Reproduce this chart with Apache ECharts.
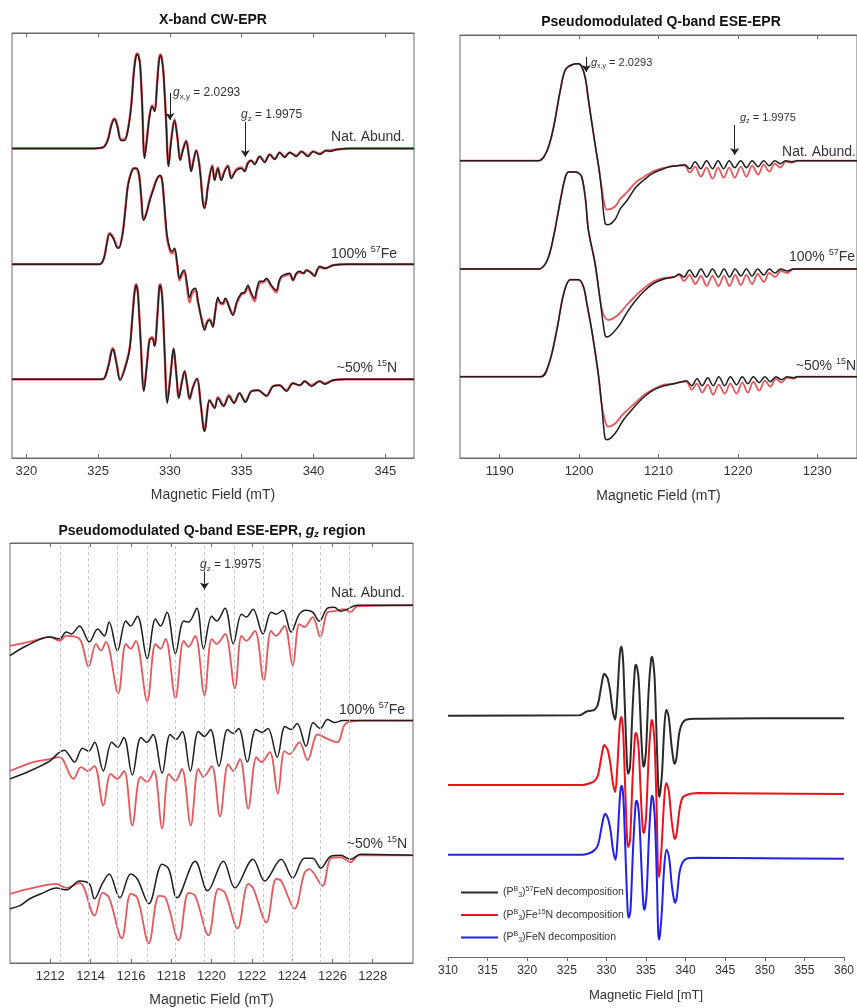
<!DOCTYPE html>
<html>
<head>
<meta charset="utf-8">
<script src="https://cdn.jsdelivr.net/npm/echarts@6/dist/echarts.min.js"></script>
<style>html,body{margin:0;padding:0;background:#fff}#c{width:857px;height:1008px}</style>
</head>
<body>
<div id="c"></div>
<script>
// ---------- tick labels ----------
const cwTicks = [320, 325, 330, 335, 340, 345];
const qTicks = [1190, 1200, 1210, 1220, 1230];
const gzTicks = [1212, 1214, 1216, 1218, 1220, 1222, 1224, 1226, 1228];
const decTicks = [310, 315, 320, 325, 330, 335, 340, 345, 350, 355, 360];

// ---------- X-band CW-EPR (field mT, signal a.u.) ----------
const cwNatExp = [[319,0],[324.39,0],[325.32,1],[325.67,8],[325.9,22],[326.05,28],[326.14,29],[326.24,27],[326.37,20],[326.6,8],[326.83,8],[327.07,18],[327.3,42],[327.48,75],[327.62,91],[327.72,94],[327.82,92],[327.93,82],[328.07,42],[328.23,-10],[328.39,8],[328.58,32],[328.76,42],[328.93,37],[329.11,65],[329.24,88],[329.34,93],[329.44,89],[329.55,75],[329.74,25],[329.9,-18],[330.09,8],[330.32,28],[330.51,12],[330.72,-12],[330.9,-2],[331.13,7],[331.32,-8],[331.48,-23],[331.65,-12],[331.83,-2],[332.06,-18],[332.3,-55],[332.41,-60],[332.52,-54],[332.65,-38],[332.95,-18],[333.11,-32],[333.34,-20],[333.57,-32],[333.81,-23],[334.04,-18],[334.27,-30],[334.62,-22],[334.97,-20],[335.2,-23],[335.43,-15],[335.65,-12],[335.9,-16],[336.25,-8],[336.6,-14],[336.95,-6],[337.3,-11],[337.64,-4],[337.99,-9],[338.34,-4],[338.81,-8],[339.16,-3],[339.62,-8],[339.97,-3],[340.43,-6],[340.9,-2],[341.13,-3],[341.6,-1],[342.5,0],[347,0]];
const cwNatSim = [[319,0],[324.39,0],[325.32,1],[325.67,9],[325.9,23],[326.05,29],[326.14,30],[326.24,28],[326.37,21],[326.6,9],[326.83,9],[327.07,19],[327.3,43],[327.48,76],[327.62,92],[327.72,95],[327.82,93],[327.93,83],[328.07,43],[328.23,-9],[328.39,9],[328.58,33],[328.76,43],[328.93,38],[329.11,66],[329.24,89],[329.34,94],[329.44,90],[329.55,76],[329.74,26],[329.9,-17],[330.09,9],[330.32,29],[330.51,13],[330.72,-11],[330.9,-1],[331.13,8],[331.32,-7],[331.48,-22],[331.65,-11],[331.83,-2],[332.06,-17],[332.3,-53],[332.41,-58],[332.52,-52],[332.65,-37],[332.95,-17],[333.11,-31],[333.34,-19],[333.57,-31],[333.81,-22],[334.04,-17],[334.27,-29],[334.62,-21],[334.97,-19],[335.2,-22],[335.43,-14],[335.65,-12],[335.9,-15],[336.25,-8],[336.6,-13],[336.95,-6],[337.3,-10],[337.64,-4],[337.99,-8],[338.34,-4],[338.81,-7],[339.16,-3],[339.62,-7],[339.97,-3],[340.43,-5],[340.9,-2],[341.13,-2],[341.6,-1],[342.5,0],[347,0]];
const cwFeExp = [[319,0],[325.1,0],[325.4,6],[325.6,20],[325.79,30],[326.05,26],[326.3,17],[326.44,16],[326.7,30],[326.9,55],[327.07,78],[327.3,91],[327.5,96],[327.7,96],[327.85,90],[328.0,68],[328.16,44],[328.35,50],[328.6,64],[328.83,74],[329.1,85],[329.3,89],[329.45,85],[329.6,62],[329.78,31],[329.97,17],[330.15,13],[330.32,16],[330.5,2],[330.67,-14],[330.85,-8],[331.0,-6],[331.2,-20],[331.37,-33],[331.55,-26],[331.78,-24],[331.95,-36],[332.2,-55],[332.41,-66],[332.6,-58],[332.76,-56],[332.99,-63],[333.15,-48],[333.34,-33],[333.5,-38],[333.69,-39],[333.85,-34],[333.97,-36],[334.2,-46],[334.39,-51],[334.65,-38],[334.97,-29],[335.2,-28],[335.43,-21],[335.65,-28],[335.9,-34],[336.05,-25],[336.25,-17],[336.5,-17],[336.72,-14],[337.06,-21],[337.41,-26],[337.6,-17],[337.76,-12],[338.05,-10],[338.34,-9],[338.57,-16],[338.8,-9],[339.04,-7],[339.3,-9],[339.5,-6],[339.8,-8],[340.08,-12],[340.25,-6],[340.43,-2],[340.8,-4],[341.36,-1],[342.3,0],[347,0]];
const cwFeSim = [[319,0],[325.1,0],[325.4,6],[325.6,21],[325.79,31],[326.05,27],[326.3,18],[326.44,17],[326.7,31],[326.9,56],[327.07,79],[327.3,92],[327.5,96],[327.7,95],[327.85,89],[328.0,67],[328.16,45],[328.35,51],[328.6,65],[328.83,75],[329.1,86],[329.3,88],[329.45,84],[329.6,60],[329.78,29],[329.97,15],[330.15,11],[330.32,14],[330.5,0],[330.67,-16],[330.85,-10],[331.0,-8],[331.2,-24],[331.37,-38],[331.55,-29],[331.78,-26],[331.95,-38],[332.2,-54],[332.41,-64],[332.6,-57],[332.76,-55],[332.99,-61],[333.15,-48],[333.34,-35],[333.5,-39],[333.69,-40],[333.85,-35],[333.97,-37],[334.2,-45],[334.39,-50],[334.65,-39],[334.97,-30],[335.2,-29],[335.43,-23],[335.65,-30],[335.9,-37],[336.05,-27],[336.25,-19],[336.5,-18],[336.72,-15],[337.06,-22],[337.41,-28],[337.6,-18],[337.76,-13],[338.05,-11],[338.34,-10],[338.57,-16],[338.8,-10],[339.04,-8],[339.3,-9],[339.5,-6],[339.8,-8],[340.08,-11],[340.25,-6],[340.43,-3],[340.8,-4],[341.36,-1],[342.3,0],[347,0]];
const cwNExp = [[319,0],[325.3,0],[325.5,3],[325.75,15],[325.92,27],[326.02,30],[326.12,27],[326.3,14],[326.53,-1],[326.85,10],[327.18,29],[327.35,55],[327.5,82],[327.58,91],[327.65,94],[327.73,90],[327.8,80],[327.97,35],[328.18,-12],[328.4,15],[328.58,39],[328.77,41],[328.93,33],[329.12,62],[329.25,90],[329.32,94],[329.4,90],[329.48,78],[329.65,20],[329.81,-24],[330.05,5],[330.25,31],[330.45,5],[330.62,-19],[330.82,-4],[331.02,8],[331.2,-5],[331.37,-19],[331.6,-8],[331.88,1],[332.15,-25],[332.32,-48],[332.41,-52],[332.5,-47],[332.58,-35],[332.76,-21],[333.11,-29],[333.34,-19],[333.74,-27],[334.11,-17],[334.46,-24],[334.85,-14],[335.25,-23],[335.67,-12],[336.13,-11],[336.72,-17],[337.18,-7],[337.64,-6],[338.11,-12],[338.57,-4],[339.04,-6],[339.39,-2],[339.85,-7],[340.43,-2],[340.78,-5],[341.36,-1],[342.3,0],[347,0]];
const cwNSim = [[319,0],[325.3,0],[325.5,3],[325.75,16],[325.92,28],[326.02,31],[326.12,28],[326.3,15],[326.53,0],[326.85,11],[327.18,30],[327.35,56],[327.5,83],[327.58,92],[327.65,95],[327.73,91],[327.8,81],[327.97,36],[328.18,-11],[328.4,16],[328.58,40],[328.77,42],[328.93,34],[329.12,63],[329.25,91],[329.32,95],[329.4,91],[329.48,79],[329.65,21],[329.81,-22],[330.05,6],[330.25,30],[330.45,4],[330.62,-18],[330.82,-3],[331.02,8],[331.2,-6],[331.37,-20],[331.6,-8],[331.88,0],[332.15,-26],[332.32,-46],[332.41,-50],[332.5,-45],[332.58,-34],[332.76,-21],[333.11,-28],[333.34,-18],[333.74,-26],[334.11,-16],[334.46,-23],[334.85,-14],[335.25,-22],[335.67,-12],[336.13,-11],[336.72,-16],[337.18,-7],[337.64,-6],[338.11,-11],[338.57,-4],[339.04,-6],[339.39,-2],[339.85,-6],[340.43,-2],[340.78,-4],[341.36,-1],[342.3,0],[347,0]];
const cwOffsets = [309.5, 193.7, 78.7];
const cwArrows = [[330.0, 365, 338], [335.25, 336, 301]];

// ---------- Pseudomodulated Q-band ESE-EPR ----------
const qNatExp = [[1185,0],[1194.9,0],[1195.57,4],[1196.2,15],[1196.8,34],[1197.65,71],[1198.27,91],[1199.1,96],[1199.9,97],[1200.34,94],[1200.8,82],[1201.17,61],[1202.0,17],[1202.5,-8],[1202.83,-30],[1203.25,-62],[1203.6,-64],[1204.5,-59],[1205.2,-48],[1206.1,-39],[1207.1,-27],[1208.2,-19],[1209.2,-13],[1210.3,-9],[1211.4,-6],[1212.4,-5],[1213.3,-4],[1213.94,-8],[1214.6,-1],[1215.33,-8],[1216.05,0],[1216.81,-8],[1217.5,0],[1218.21,-8],[1218.9,0],[1219.6,-7],[1220.35,0],[1221.08,-7],[1221.8,0],[1222.55,-6],[1223.25,0],[1223.95,-5],[1224.65,0],[1225.35,-3],[1226.0,0],[1226.8,-1],[1227.5,0],[1235,0]];
const qNatSim = [[1185,0],[1194.9,0],[1195.57,4],[1196.2,15],[1196.8,34],[1197.65,71],[1198.27,91],[1199.1,96],[1199.9,97],[1200.34,94],[1200.8,82],[1201.17,61],[1202.0,17],[1202.5,-8],[1202.83,-26],[1203.2,-44],[1203.5,-49],[1204.5,-46],[1205.2,-38],[1206.1,-31],[1207.1,-22],[1208.2,-16],[1209.2,-11],[1210.3,-8],[1211.4,-6],[1212.4,-5],[1213.3,-5],[1213.94,-12],[1214.6,-6],[1215.33,-16],[1216.05,-7],[1216.81,-18],[1217.5,-7],[1218.21,-17],[1218.9,-7],[1219.6,-17],[1220.35,-6],[1221.08,-16],[1221.8,-5],[1222.55,-14],[1223.25,-4],[1223.95,-11],[1224.65,-3],[1225.35,-7],[1226.0,-1],[1226.8,-2],[1227.5,0],[1235,0]];
const qFeExp = [[1185,0],[1194.95,0],[1196.0,9],[1196.8,33],[1197.65,69],[1198.27,92],[1198.7,97],[1199.5,97],[1199.93,96],[1200.34,92],[1200.8,70],[1201.17,39],[1202.0,6],[1202.6,-28],[1203.25,-66],[1203.5,-68],[1204.9,-58],[1206.0,-44],[1206.97,-33],[1208.2,-22],[1209.46,-14],[1210.7,-10],[1211.95,-8],[1212.6,-5],[1213.2,-8],[1213.9,-1],[1214.63,-8],[1215.35,0],[1216.07,-8],[1216.8,0],[1217.55,-8],[1218.25,0],[1218.95,-8],[1219.65,0],[1220.37,-7],[1221.07,0],[1221.78,-7],[1222.5,0],[1223.26,-6],[1223.95,0],[1224.69,-4],[1225.4,0],[1226.2,-2],[1227,0],[1235,0]];
const qFeSim = [[1185,0],[1194.95,0],[1196.0,9],[1196.8,33],[1197.65,69],[1198.27,92],[1198.7,97],[1199.5,97],[1199.93,96],[1200.34,92],[1200.8,70],[1201.17,39],[1202.0,6],[1202.6,-28],[1203.0,-44],[1203.66,-51],[1204.9,-46],[1206.0,-36],[1206.97,-28],[1208.2,-19],[1209.46,-12],[1210.7,-9],[1211.95,-8],[1212.6,-6],[1213.2,-12],[1213.9,-6],[1214.63,-15],[1215.35,-7],[1216.07,-17],[1216.8,-7],[1217.55,-17],[1218.25,-7],[1218.95,-17],[1219.65,-6],[1220.37,-16],[1221.07,-6],[1221.78,-15],[1222.5,-5],[1223.26,-13],[1223.95,-4],[1224.69,-8],[1225.4,-2],[1226.2,-4],[1227,0],[1235,0]];
const qNExp = [[1185,0],[1195.16,0],[1196.2,13],[1197.2,47],[1198.06,83],[1198.9,97],[1199.93,97],[1200.55,90],[1201.0,72],[1201.58,47],[1202.41,3],[1202.83,-27],[1203.25,-61],[1203.5,-63],[1204.5,-57],[1205.6,-43],[1206.97,-30],[1208.2,-20],[1209.46,-13],[1210.7,-9],[1211.95,-7],[1213.0,-5],[1213.5,-4],[1214.19,-9],[1214.85,-2],[1215.5,-9],[1216.2,-1],[1216.89,-9],[1217.6,0],[1218.33,-9],[1219.05,0],[1219.83,-8],[1220.55,0],[1221.25,-7],[1221.95,0],[1222.68,-6],[1223.4,0],[1224.08,-5],[1224.8,0],[1225.47,-3],[1226.2,0],[1227,-1],[1227.5,0],[1235,0]];
const qNSim = [[1185,0],[1195.16,0],[1196.2,13],[1197.2,47],[1198.06,83],[1198.9,97],[1199.93,97],[1200.55,90],[1201.0,72],[1201.58,47],[1202.41,3],[1202.83,-27],[1203.2,-42],[1203.66,-50],[1204.5,-47],[1205.6,-37],[1206.97,-27],[1208.2,-18],[1209.46,-12],[1210.7,-8],[1211.95,-7],[1213.0,-5],[1213.5,-5],[1214.19,-13],[1214.85,-7],[1215.5,-16],[1216.2,-8],[1216.89,-18],[1217.6,-8],[1218.33,-17],[1219.05,-7],[1219.83,-17],[1220.55,-6],[1221.25,-16],[1221.95,-5],[1222.68,-14],[1223.4,-4],[1224.08,-10],[1224.8,-2],[1225.47,-6],[1226.2,-1],[1227,-2],[1227.5,0],[1235,0]];
const qOffsets = [297.3, 189, 81.3];
const qArrows = [[1200.9, 401, 386], [1219.6, 333, 303]];

// ---------- Q-band, g_z region ----------
const gzNatExp = [[1210,-51],[1210.82,-41],[1211.97,-32],[1212.46,-34],[1212.79,-27],[1213.04,-29],[1213.45,-21],[1213.94,-37],[1214.35,-24],[1214.68,-31],[1214.92,-17],[1215.33,-46],[1215.75,-16],[1215.99,-21],[1216.32,-11],[1216.81,-54],[1217.22,-14],[1217.47,-21],[1217.79,-7],[1218.21,-49],[1218.62,-16],[1218.86,-17],[1219.27,-3],[1219.6,-44],[1220.01,-11],[1220.26,-16],[1220.67,-3],[1221.08,-39],[1221.49,-9],[1221.73,-12],[1222.06,-4],[1222.55,-29],[1222.96,-7],[1223.21,-9],[1223.54,-5],[1223.95,-27],[1224.36,-9],[1224.69,-5],[1225.02,-7],[1225.35,-16],[1225.76,-3],[1226.09,-2],[1226.41,-6],[1226.74,-4],[1227.23,0],[1230,0]];
const gzNatSim = [[1210,-41],[1211.15,-36],[1211.97,-32],[1212.46,-36],[1212.79,-31],[1213.45,-34],[1213.9,-62],[1214.27,-39],[1214.51,-46],[1214.76,-37],[1215.37,-89],[1215.75,-39],[1215.99,-44],[1216.24,-36],[1216.81,-97],[1217.22,-39],[1217.47,-44],[1217.72,-34],[1218.21,-94],[1218.62,-36],[1218.86,-42],[1219.19,-31],[1219.65,-91],[1220.01,-34],[1220.26,-39],[1220.67,-29],[1221.16,-84],[1221.49,-31],[1221.73,-36],[1222.15,-26],[1222.59,-76],[1222.96,-26],[1223.21,-31],[1223.62,-21],[1224.03,-61],[1224.36,-19],[1224.61,-22],[1225.02,-12],[1225.4,-32],[1225.76,-7],[1226.09,-6],[1226.58,-4],[1226.9,-7],[1227.23,-1],[1230,0]];
const gzFeExp = [[1210,-59],[1210.98,-51],[1211.97,-41],[1212.4,-33],[1212.7,-30],[1212.9,-34],[1213.2,-42],[1213.6,-28],[1213.9,-31],[1214.2,-22],[1214.63,-51],[1215.05,-22],[1215.35,-27],[1215.65,-17],[1216.07,-55],[1216.5,-17],[1216.8,-22],[1217.1,-14],[1217.55,-53],[1217.95,-14],[1218.25,-19],[1218.55,-11],[1218.95,-51],[1219.35,-11],[1219.65,-16],[1219.95,-9],[1220.37,-46],[1220.8,-9],[1221.07,-13],[1221.35,-8],[1221.78,-42],[1222.2,-9],[1222.5,-12],[1222.8,-8],[1223.26,-37],[1223.65,-6],[1223.95,-9],[1224.25,-3],[1224.69,-26],[1225.05,-2],[1225.4,-8],[1225.76,1],[1226.1,-2],[1226.5,0],[1227,0],[1230,0]];
const gzFeSim = [[1210,-51],[1211.15,-42],[1211.97,-39],[1212.46,-37],[1213.15,-59],[1213.53,-47],[1213.86,-51],[1214.19,-46],[1214.63,-86],[1215.0,-54],[1215.33,-59],[1215.66,-51],[1216.07,-106],[1216.48,-57],[1216.81,-62],[1217.14,-51],[1217.55,-109],[1217.88,-54],[1218.21,-61],[1218.53,-49],[1218.97,-106],[1219.35,-49],[1219.6,-57],[1220.01,-46],[1220.42,-97],[1220.83,-44],[1221.08,-51],[1221.41,-39],[1221.82,-89],[1222.23,-37],[1222.47,-42],[1222.89,-32],[1223.29,-74],[1223.62,-31],[1223.87,-34],[1224.36,-22],[1224.77,-40],[1225.27,-14],[1225.7,-18],[1226.25,-22],[1226.66,-3],[1227.5,0],[1230,0]];
const gzNExp = [[1210,-54],[1210.49,-51],[1210.98,-44],[1211.64,-38],[1212.3,-33],[1212.79,-35],[1213.45,-26],[1213.94,-29],[1214.19,-44],[1214.6,-28],[1214.92,-19],[1215.45,-43],[1215.99,-19],[1216.32,-24],[1216.89,-49],[1217.55,-9],[1217.88,-14],[1218.29,-43],[1219.19,-6],[1219.81,-36],[1220.59,-6],[1221.16,-33],[1222.06,-4],[1222.64,-26],[1223.46,-4],[1224.03,-23],[1224.61,-3],[1225.02,-3],[1225.43,-13],[1225.92,-1],[1226.41,0],[1226.9,-4],[1227.4,1],[1230,0]];
const gzNSim = [[1210,-39],[1211.15,-33],[1212.3,-29],[1212.79,-33],[1213.45,-28],[1214.19,-61],[1214.6,-38],[1214.92,-43],[1215.55,-84],[1215.99,-39],[1216.32,-43],[1216.89,-89],[1217.39,-41],[1217.72,-43],[1218.37,-86],[1218.86,-38],[1219.19,-41],[1219.85,-81],[1220.34,-34],[1220.67,-38],[1221.29,-74],[1221.82,-29],[1222.06,-33],[1222.72,-68],[1223.21,-24],[1223.46,-26],[1224.12,-54],[1224.61,-18],[1224.85,-14],[1225.51,-31],[1225.92,-3],[1226.41,-2],[1226.9,-7],[1227.32,0],[1230,0]];
const gzOffsets = [362, 245.3, 109];
const gzHyperfine = [1212.5, 1213.9, 1215.33, 1216.8, 1218.2, 1219.65, 1221.13, 1222.59, 1224.0, 1225.42, 1226.85];
const gzArrow = [1219.65, 396, 378];

// ---------- decomposition spectra ----------
const decFe57 = [[310,0],[326.6,0.5],[327.45,4],[328.0,5],[328.49,6],[328.91,11],[329.34,29],[329.6,40],[329.75,42],[329.95,40],[330.17,37],[330.47,25],[330.8,5],[331.1,-4],[331.35,16],[331.64,56],[331.78,67],[331.9,69],[332.02,64],[332.15,49],[332.4,-7],[332.62,-50],[332.74,-58],[332.86,-56],[332.99,-51],[333.32,9],[333.62,49],[333.75,51],[333.9,47],[334.08,36],[334.42,-24],[334.6,-47],[334.71,-51],[334.85,-47],[335.01,-34],[335.34,26],[335.64,56],[335.77,59],[335.92,53],[336.1,36],[336.35,-24],[336.58,-76],[336.69,-81],[336.82,-75],[337.03,-57],[337.32,-11],[337.57,6],[337.86,-1],[338.24,-31],[338.5,-46],[338.62,-48],[338.75,-46],[338.87,-41],[339.21,-17],[339.55,-8],[340.05,-4],[341.3,-3],[350,-2.5],[360,-2.6]];
const decN15 = [[310,0],[327,0],[328.0,2],[328.49,4],[328.91,9],[329.34,27],[329.6,38],[329.75,40],[329.95,38],[330.17,35],[330.47,23],[330.8,3],[331.1,-7],[331.35,14],[331.64,55],[331.78,66],[331.9,68],[332.02,63],[332.15,48],[332.4,-9],[332.62,-54],[332.74,-62],[332.86,-60],[332.99,-55],[333.32,8],[333.62,50],[333.75,52],[333.9,48],[334.08,36],[334.42,-22],[334.6,-44],[334.71,-48],[334.85,-44],[335.01,-32],[335.34,28],[335.64,62],[335.77,65],[335.92,58],[336.1,40],[336.35,-25],[336.5,-82],[336.62,-92],[336.75,-86],[336.97,-62],[337.3,-15],[337.55,2],[337.86,-5],[338.24,-36],[338.54,-52],[338.66,-54],[338.78,-52],[338.9,-47],[339.25,-24],[339.6,-13],[340.1,-10],[341.5,-8],[350,-8.5],[360,-9]];
const decFeN = [[310,0],[327,0],[328.0,2],[328.55,5],[328.95,10],[329.4,28],[329.7,39],[329.85,41],[330.05,39],[330.25,35],[330.55,23],[330.85,4],[331.15,-5],[331.4,15],[331.68,55],[331.82,67],[331.95,69],[332.07,64],[332.2,48],[332.45,-8],[332.68,-55],[332.8,-63],[332.92,-61],[333.05,-55],[333.38,8],[333.7,52],[333.83,54],[333.98,50],[334.15,36],[334.5,-25],[334.68,-51],[334.8,-55],[334.93,-51],[335.1,-36],[335.42,26],[335.68,56],[335.8,59],[335.95,53],[336.12,36],[336.37,-24],[336.53,-76],[336.65,-85],[336.78,-79],[337.0,-57],[337.32,-10],[337.6,5],[337.9,-2],[338.28,-32],[338.56,-46],[338.68,-48],[338.8,-46],[338.92,-41],[339.25,-17],[339.6,-8],[340.1,-4],[341.5,-3],[350,-3.5],[360,-4]];
const decOffsets = [241.3, 172, 102.3];
const decNames = ['(PB3)57FeN decomposition', '(PB3)Fe15N decomposition', '(PB3)FeN decomposition'];

// ---------- styling ----------
const FF = '"Liberation Sans", Arial, Helvetica, sans-serif';
const EXP = '#1e1e1e', SIM = '#e8575b', FRAME = '#6a6a6a', TXT = '#333';
function fnt(size, opt) { return (opt ? opt + ' ' : '') + size + 'px ' + FF; }
function richFor(size) {
  const small = Math.round(size * 0.64);
  return {
    t: { font: fnt(size), fill: TXT },
    i: { font: fnt(size, 'italic'), fill: TXT },
    s: { font: fnt(small), fill: TXT, padding: [Math.round(size * 0.55), 0, 0, 0] },
    u: { font: fnt(small), fill: TXT, padding: [0, 0, Math.round(size * 0.6), 0] },
    b: { font: fnt(size, 'bold'), fill: '#111' },
    bi: { font: fnt(size, 'italic bold'), fill: '#111' },
    bs: { font: fnt(small, 'italic bold'), fill: '#111', padding: [Math.round(size * 0.55), 0, 0, 0] }
  };
}
function txt(x, y, s, size, align) {
  return { type: 'text', x: x, y: y, z: 100, silent: true,
    style: { text: s, font: fnt(size), fill: TXT, align: align, textAlign: align,
      verticalAlign: 'middle', textVerticalAlign: 'middle', rich: richFor(size) } };
}

function trace(name, pts, off, ax, color, width, z, extra) {
  return Object.assign({
    type: 'line', name: name, xAxisIndex: ax, yAxisIndex: ax,
    data: pts.map(p => [p[0], p[1] + off]),
    symbol: 'none', showSymbol: false, smooth: 0.35, clip: true,
    lineStyle: { color: color, width: width }, itemStyle: { color: color },
    z: z, silent: true, animation: false
  }, extra || {});
}
function arrowLine(list) {
  return { silent: true, animation: false, symbol: ['none', 'arrow'], symbolSize: 7,
    label: { show: false }, emphasis: { disabled: true },
    lineStyle: { color: '#222', width: 1, type: 'solid' },
    data: list.map(a => [{ coord: [a[0], a[1]] }, { coord: [a[0], a[2]] }]) };
}

const plainNum = v => String(v);
function bottomAxis(gi, min, max, ticks, name, gap, size, nameSize) {
  return { type: 'value', gridIndex: gi, min: min, max: max, position: 'bottom',
    axisLine: { show: true, onZero: false, lineStyle: { color: FRAME } },
    axisTick: { show: true, inside: true, length: 4, customValues: ticks, lineStyle: { color: FRAME } },
    axisLabel: { show: true, customValues: ticks, formatter: plainNum, margin: 7, color: TXT, fontSize: size, fontFamily: FF },
    splitLine: { show: false },
    name: name, nameLocation: 'middle', nameGap: gap,
    nameTextStyle: { color: TXT, fontSize: nameSize, fontFamily: FF } };
}
function topAxis(gi, min, max, ticks) {
  return { type: 'value', gridIndex: gi, min: min, max: max, position: 'top',
    axisLine: { show: true, onZero: false, lineStyle: { color: FRAME } },
    axisTick: { show: true, inside: true, length: 4, customValues: ticks, lineStyle: { color: FRAME } },
    axisLabel: { show: false }, splitLine: { show: false } };
}
function hiddenY(gi, h) {
  return { type: 'value', gridIndex: gi, min: 0, max: h, show: false, splitLine: { show: false } };
}

const decAxis = bottomAxis(3, 310, 360, decTicks, 'Magnetic Field [mT]', 32, 12, 13);
decAxis.axisTick = { show: true, inside: false, length: 4, customValues: decTicks, lineStyle: { color: FRAME } };
decAxis.axisLabel.margin = 8;

const legendRich = {};
legendRich[decNames[0]] = '{n|(P}{u|B}{s|3}{n|)}{u|57}{n|FeN decomposition}';
legendRich[decNames[1]] = '{n|(P}{u|B}{s|3}{n|)Fe}{u|15}{n|N decomposition}';
legendRich[decNames[2]] = '{n|(P}{u|B}{s|3}{n|)FeN decomposition}';

const series = [
  // X-band CW
  trace('cw-nat-sim', cwNatSim, cwOffsets[0], 0, SIM, 2.4, 2, { markLine: arrowLine(cwArrows) }),
  trace('cw-nat-exp', cwNatExp, cwOffsets[0], 0, EXP, 1.5, 3),
  trace('cw-fe-sim', cwFeSim, cwOffsets[1], 0, SIM, 2.4, 2),
  trace('cw-fe-exp', cwFeExp, cwOffsets[1], 0, EXP, 1.5, 3),
  trace('cw-n-sim', cwNSim, cwOffsets[2], 0, SIM, 2.4, 2),
  trace('cw-n-exp', cwNExp, cwOffsets[2], 0, EXP, 1.5, 3),
  // Q-band ESE
  trace('q-nat-sim', qNatSim, qOffsets[0], 1, SIM, 1.8, 2, { markLine: arrowLine(qArrows) }),
  trace('q-nat-exp', qNatExp, qOffsets[0], 1, EXP, 1.5, 3),
  trace('q-fe-sim', qFeSim, qOffsets[1], 1, SIM, 1.8, 2),
  trace('q-fe-exp', qFeExp, qOffsets[1], 1, EXP, 1.5, 3),
  trace('q-n-sim', qNSim, qOffsets[2], 1, SIM, 1.8, 2),
  trace('q-n-exp', qNExp, qOffsets[2], 1, EXP, 1.5, 3),
  // g_z region
  trace('gz-nat-sim', gzNatSim, gzOffsets[0], 2, SIM, 1.8, 2, {
    markLine: { silent: true, animation: false, symbol: 'none', label: { show: false },
      emphasis: { disabled: true },
      lineStyle: { color: '#c4c4c4', width: 1, type: [3, 3] },
      data: gzHyperfine.map(v => ({ xAxis: v })) } }),
  trace('gz-nat-exp', gzNatExp, gzOffsets[0], 2, EXP, 1.5, 3, { markLine: arrowLine([gzArrow]) }),
  trace('gz-fe-sim', gzFeSim, gzOffsets[1], 2, SIM, 1.8, 2),
  trace('gz-fe-exp', gzFeExp, gzOffsets[1], 2, EXP, 1.5, 3),
  trace('gz-n-sim', gzNSim, gzOffsets[2], 2, SIM, 1.8, 2),
  trace('gz-n-exp', gzNExp, gzOffsets[2], 2, EXP, 1.5, 3),
  // decomposition
  trace(decNames[0], decFe57, decOffsets[0], 3, '#2a2a2a', 2, 3),
  trace(decNames[1], decN15, decOffsets[1], 3, '#e8141c', 2, 3),
  trace(decNames[2], decFeN, decOffsets[2], 3, '#2222e6', 2, 3)
];

const graphics = [
  txt(213, 20, '{b|X-band CW-EPR}', 14, 'center'),
  txt(661, 22, '{b|Pseudomodulated Q-band ESE-EPR}', 14, 'center'),
  txt(212, 531, '{b|Pseudomodulated Q-band ESE-EPR, }{bi|g}{bs|z}{b| region}', 14, 'center'),
  // X-band annotations
  txt(173, 93, '{i|g}{s|x,y}{t| = 2.0293}', 12, 'left'),
  txt(241, 115, '{i|g}{s|z}{t| = 1.9975}', 12, 'left'),
  txt(405, 137, '{t|Nat. Abund.}', 14, 'right'),
  txt(397, 254, '{t|100% }{u|57}{t|Fe}', 14, 'right'),
  txt(397, 368, '{t|~50% }{u|15}{t|N}', 14, 'right'),
  // Q-band annotations
  txt(591, 63, '{i|g}{s|x,y}{t| = 2.0293}', 11, 'left'),
  txt(740, 118, '{i|g}{s|z}{t| = 1.9975}', 11, 'left'),
  txt(856, 152, '{t|Nat. Abund.}', 14, 'right'),
  txt(855, 257, '{t|100% }{u|57}{t|Fe}', 14, 'right'),
  txt(856, 366, '{t|~50% }{u|15}{t|N}', 14, 'right'),
  // g_z region annotations
  txt(200, 565, '{i|g}{s|z}{t| = 1.9975}', 12, 'left'),
  txt(405, 593, '{t|Nat. Abund.}', 14, 'right'),
  txt(405, 710, '{t|100% }{u|57}{t|Fe}', 14, 'right'),
  txt(407, 844, '{t|~50% }{u|15}{t|N}', 14, 'right')
];

const chart = echarts.init(document.getElementById('c'), null, { renderer: 'canvas', width: 857, height: 1008 });
chart.setOption({
  animation: false,
  backgroundColor: '#ffffff',
  grid: [
    { left: 12, top: 33, width: 402, height: 425, show: true, borderColor: FRAME, borderWidth: 1 },
    { left: 460, top: 35, width: 402, height: 423, show: true, borderColor: FRAME, borderWidth: 1 },
    { left: 10, top: 543, width: 403, height: 425, show: true, borderColor: FRAME, borderWidth: 1 },
    { left: 448, top: 640, width: 397, height: 317, show: false }
  ],
  xAxis: [
    bottomAxis(0, 319, 347, cwTicks, 'Magnetic Field (mT)', 30, 13, 14),
    bottomAxis(1, 1185, 1235, qTicks, 'Magnetic Field (mT)', 31, 13, 14),
    bottomAxis(2, 1210, 1230, gzTicks, 'Magnetic Field (mT)', 30, 13, 14),
    decAxis,
    topAxis(0, 319, 347, cwTicks),
    topAxis(1, 1185, 1235, qTicks),
    topAxis(2, 1210, 1230, gzTicks)
  ],
  yAxis: [hiddenY(0, 425), hiddenY(1, 423), hiddenY(2, 425), hiddenY(3, 317)],
  legend: {
    data: decNames, left: 461, top: 886, orient: 'vertical', padding: 0,
    icon: 'rect', itemWidth: 37, itemHeight: 2, itemGap: 9.5, selectedMode: false,
    formatter: n => legendRich[n],
    textStyle: { color: TXT, fontSize: 10, fontFamily: FF,
      rich: {
        n: { color: TXT, fontSize: 10.5, fontFamily: FF },
        u: { color: TXT, fontSize: 7, fontFamily: FF, padding: [0, 0, 6, 0] },
        s: { color: TXT, fontSize: 7, fontFamily: FF, padding: [6, 0, 0, 0] }
      } }
  },
  graphic: graphics,
  series: series
});
</script>
</body>
</html>
